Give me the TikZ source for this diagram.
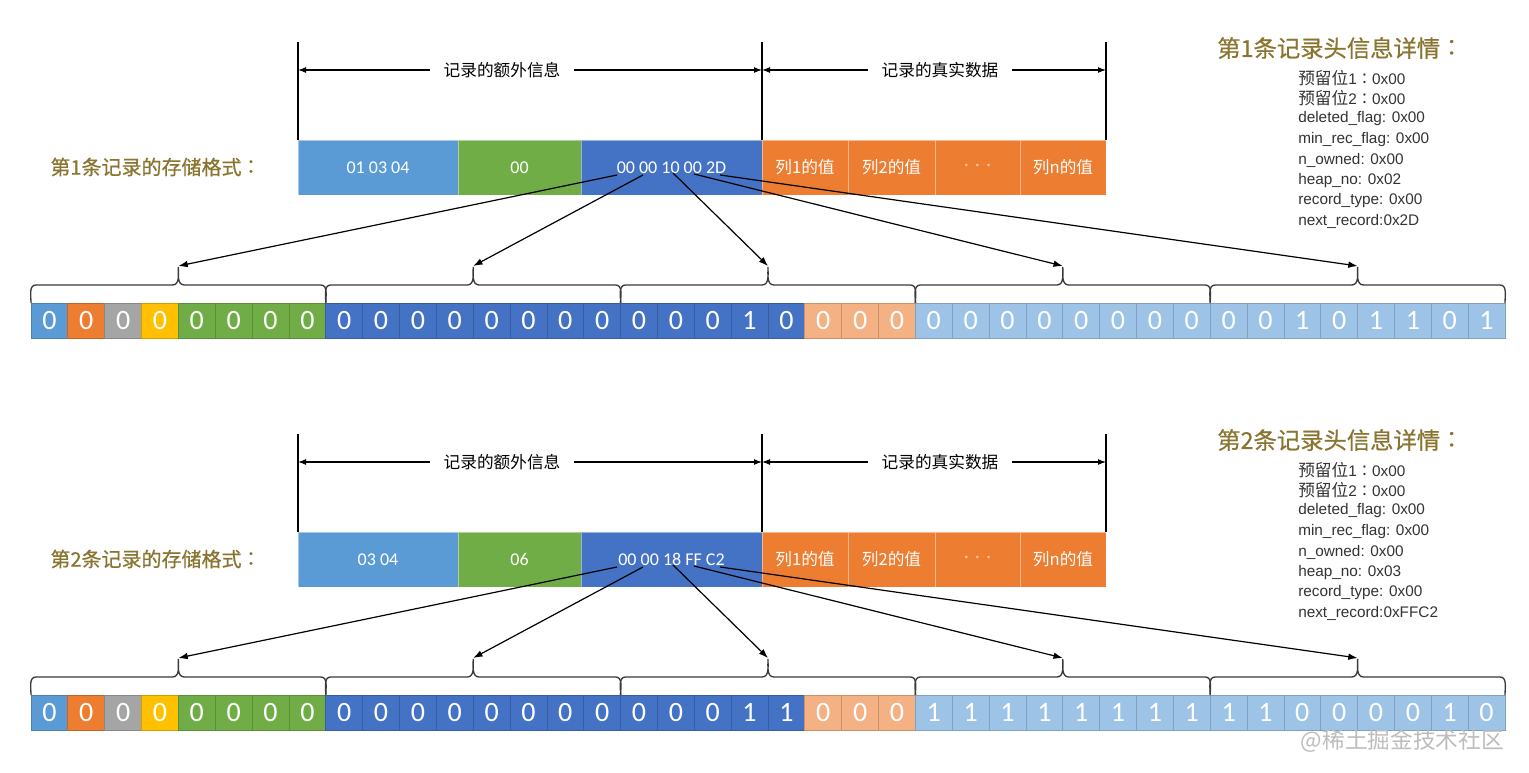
\documentclass[tikz,border=0pt]{standalone}
\usepackage{fontspec}
\setmainfont{Liberation Sans}
\newfontfamily\cjk{Noto Sans CJK SC}
\newfontfamily\cjkmed[FakeBold=0.6]{Noto Sans CJK SC}
\newfontfamily\cjktc{Noto Sans CJK TC}
\newfontfamily\calfont{Carlito}
\usetikzlibrary{arrows.meta}
\definecolor{cA}{HTML}{5B9BD5}
\definecolor{cOr}{HTML}{ED7D31}
\definecolor{cGr}{HTML}{A5A5A5}
\definecolor{cGo}{HTML}{FFC000}
\definecolor{cGn}{HTML}{70AD47}
\definecolor{cBl}{HTML}{4472C4}
\definecolor{cLo}{HTML}{F4B183}
\definecolor{cLb}{HTML}{9DC3E6}
\definecolor{titleC}{HTML}{8A7530}
\definecolor{infoC}{HTML}{333333}
\definecolor{braceC}{HTML}{3A3A3A}
\definecolor{wmC}{HTML}{BDBDBD}

\newcommand\fwcolon{{\cjktc ：}}

% #1 prefix, #2 y offset, #3 record number, #4 box1, #5 box2, #6 box3, #7 bits, #8 heap_no, #9 next_record
\newcommand\drawrecord[9]{%
\begin{scope}[shift={(0,#2)}]
  % dimension lines
  \coordinate (#1-v1t) at (298,42); \coordinate (#1-v1b) at (298,140);
  \coordinate (#1-v2t) at (762,42); \coordinate (#1-v2b) at (762,140);
  \coordinate (#1-v3t) at (1106,42); \coordinate (#1-v3b) at (1106,140);
  \draw[dimline] (#1-v1t) -- (#1-v1b);
  \draw[dimline] (#1-v2t) -- (#1-v2b);
  \draw[dimline] (#1-v3t) -- (#1-v3b);
  \coordinate (#1-a1) at (298,70); \coordinate (#1-a2) at (762,70); \coordinate (#1-a3) at (1106,70);
  \draw[dimarrow] (#1-a1) -- (#1-a2);
  \draw[dimarrow] (#1-a2) -- (#1-a3);
  \node[dimlabel] (#1-dl1) at (502,70) {记录的额外信息};
  \node[dimlabel] (#1-dl2) at (940,70) {记录的真实数据};
  % record boxes
  \path[fill=cA,recborder] (298,140) rectangle (458,195);
  \path[fill=cGn,recborder] (458,140) rectangle (581,195);
  \path[fill=cBl,recborder] (581,140) rectangle (762,195);
  \path[fill=cOr,recborder] (762,140) rectangle (848,195);
  \path[fill=cOr,recborder] (848,140) rectangle (935,195);
  \path[fill=cOr,recborder] (935,140) rectangle (1020,195);
  \path[fill=cOr,recborder] (1020,140) rectangle (1106,195);
  \node[boxtext] (#1-b1) at (378,167.5) {#4};
  \node[boxtext] (#1-b2) at (519.5,167.5) {#5};
  \node[boxtext] (#1-b3) at (671.5,167.5) {#6};
  \node[coltext] (#1-c1) at (805,167.5) {列1的值};
  \node[coltext] (#1-c2) at (891.5,167.5) {列2的值};
  \node[boxtext,text=white!55!cOr] (#1-c3) at (977.5,167.5) {·\hspace{5pt}·\hspace{5pt}·};
  \node[coltext] (#1-c4) at (1063,167.5) {列n的值};
  % left label
  \node[lefttitle] (#1-lab) at (156,167) {第#3条记录的存储格式\fwcolon};
  % right info
  \node[righttitle] (#1-rt) at (1217,48) {第#3条记录头信息详情\fwcolon};
  \node[infoline] (#1-i1) at (1298,78) {{\cjkinfo 预留位}1\fwcolon 0x00};
  \node[infoline] (#1-i2) at (1298,98.5) {{\cjkinfo 预留位}2\fwcolon 0x00};
  \node[infoline] (#1-i3) at (1298,119) {deleted\_flag: 0x00};
  \node[infoline] (#1-i4) at (1298,139.5) {min\_rec\_flag: 0x00};
  \node[infoline] (#1-i5) at (1298,160) {n\_owned: 0x00};
  \node[infoline] (#1-i6) at (1298,180.5) {heap\_no: #8};
  \node[infoline] (#1-i7) at (1298,201) {record\_type: 0x00};
  \node[infoline] (#1-i8) at (1298,221.5) {next\_record:#9};
  % bits
  \foreach \b [count=\i from 0] in {#7} {
    \ifnum\i=0 \def\cc{cA}\fi
    \ifnum\i=1 \def\cc{cOr}\fi
    \ifnum\i=2 \def\cc{cGr}\fi
    \ifnum\i=3 \def\cc{cGo}\fi
    \ifnum\i>3 \def\cc{cGn}\fi
    \ifnum\i>7 \def\cc{cBl}\fi
    \ifnum\i>20 \def\cc{cLo}\fi
    \ifnum\i>23 \def\cc{cLb}\fi
    \pgfmathsetmacro\xl{31+\i*36.85}
    \pgfmathsetmacro\xr{\xl+36.85}
    \pgfmathsetmacro\xm{\xl+18.425}
    \path[fill=\cc,draw=\cc!82!black,line width=0.6pt] (\xl,303) rectangle (\xr,338);
    \node[bittext] (#1-bit\i) at (\xm,320.5) {\b};
  }
  % braces
  \foreach \k in {0,...,4} {
    \pgfmathsetmacro\ba{31+294.8*\k}
    \pgfmathsetmacro\bm{\ba+147.4}
    \pgfmathsetmacro\bb{\ba+294.8}
    \draw[bracestyle] (\ba,303) to[out=90,in=180] (\ba+5,285) -- (\bm-6,285)
      to[out=0,in=-90] (\bm,267) to[out=-90,in=180] (\bm+6,285) -- (\bb-5,285)
      to[out=0,in=90] (\bb,303);
    \coordinate (#1-tip\k) at (\bm,266);
  }
  % pointer arrows
  \coordinate (#1-s1) at (617,175);
  \coordinate (#1-s2) at (643,175);
  \coordinate (#1-s3) at (673,173);
  \coordinate (#1-s4) at (694,174);
  \coordinate (#1-s5) at (720,175);
  \draw[ptr] (#1-s1) -- (#1-tip0);
  \draw[ptr] (#1-s2) -- (#1-tip1);
  \draw[ptr] (#1-s3) -- (#1-tip2);
  \draw[ptr] (#1-s4) -- (#1-tip3);
  \draw[ptr] (#1-s5) -- (#1-tip4);
\end{scope}}

\newcommand\cjkinfo{\cjk\fontsize{12.5pt}{14pt}\selectfont}

\begin{document}
\begin{tikzpicture}[x=0.75pt,y=-0.75pt,
  dimline/.style={draw=black,line width=0.8pt},
  dimarrow/.style={draw=black,line width=0.8pt,{Latex[length=6pt,width=4.5pt]}-{Latex[length=6pt,width=4.5pt]}},
  dimlabel/.style={fill=white,inner xsep=10pt,inner ysep=2pt,font=\cjk\fontsize{12.5pt}{14pt}\selectfont},
  recborder/.style={draw=white,draw opacity=0.45,line width=0.5pt},
  boxtext/.style={text=white,font=\calfont\fontsize{13.5pt}{15pt}\selectfont,inner sep=0pt},
  coltext/.style={text=white,font=\cjk\fontsize{12.5pt}{14pt}\selectfont,inner sep=0pt},
  bittext/.style={text=white,font=\calfont\fontsize{21pt}{24pt}\selectfont,inner sep=0pt},
  bracestyle/.style={draw=braceC,line width=1pt},
  ptr/.style={draw=black,line width=0.9pt,-{Latex[length=7pt,width=5pt]}},
  lefttitle/.style={text=titleC,font=\cjkmed\fontsize{15pt}{17pt}\selectfont,inner sep=0pt},
  righttitle/.style={text=titleC,font=\cjkmed\fontsize{17.5pt}{19pt}\selectfont,inner sep=0pt,anchor=west},
  infoline/.style={text=infoC,font=\fontsize{11.5pt}{13pt}\selectfont,inner sep=0pt,anchor=west},
]
\fill[white] (0,0) rectangle (1529,773);
\useasboundingbox (0,0) rectangle (1529,773);

\drawrecord{r1}{0}{1}{01 03 04}{00}{00 00 10 00 2D}%
  {0,0,0,0,0,0,0,0,0,0,0,0,0,0,0,0,0,0,0,1,0,0,0,0,0,0,0,0,0,0,0,0,0,0,1,0,1,1,0,1}%
  {0x02}{0x2D}

\drawrecord{r2}{392}{2}{03 04}{06}{00 00 18 FF C2}%
  {0,0,0,0,0,0,0,0,0,0,0,0,0,0,0,0,0,0,0,1,1,0,0,0,1,1,1,1,1,1,1,1,1,1,0,0,0,0,1,0}%
  {0x03}{0xFFC2}

\node[text=wmC,font=\cjk\fontsize{17pt}{19pt}\selectfont,inner sep=0pt,anchor=east] (wm) at (1504,741) {@稀土掘金技术社区};
\end{tikzpicture}
\end{document}
